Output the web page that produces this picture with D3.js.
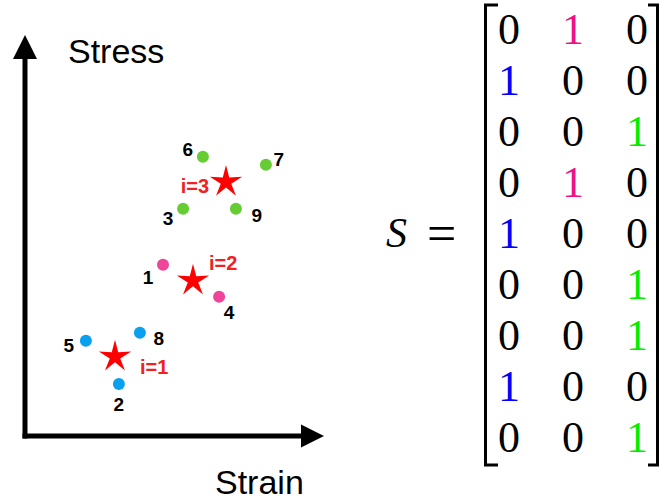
<!DOCTYPE html>
<html>
<head>
<meta charset="utf-8">
<script src="https://cdn.jsdelivr.net/npm/d3@7/dist/d3.min.js"></script>
<style>
  html,body{margin:0;padding:0;background:#fff;}
  svg{display:block;}
</style>
</head>
<body>
<div id="chart"></div>
<script>
// sample points (strain, stress) in axis units, numbered 1..9
const pointIds = [1, 2, 3, 4, 5, 6, 7, 8, 9];
const strain = [4.6, 3.13, 5.27, 6.47, 2.03, 5.93, 8.03, 3.83, 7.03];
const stress = [4.28, 1.3, 5.68, 3.48, 2.38, 6.98, 6.78, 2.58, 5.68];
// cluster each point belongs to
const assignment = [2, 1, 3, 2, 1, 3, 3, 1, 3];

// cluster centres (stars)
const clusterIds = [1, 2, 3];
const centreStrain = [3.0, 5.6, 6.7];
const centreStress = [1.98, 3.88, 6.35];

// label placement, px offsets from the mark (layout only)
const pointLabelOffset = [[-15, 12], [0, 20], [-15, 9], [10, 15], [-17, 4], [-15, -8], [13, -6], [19, 5], [21, 6]];
const centreLabelOffset = [[25, 10, "start"], [16, -18, "start"], [-17, 4, "end"]];

const width = 661, height = 501;

const dotColor = {1: "#0aa0f0", 2: "#ee4499", 3: "#66cc33"};
const matrixColor = {1: "#0000ff", 2: "#ee1188", 3: "#00ee00"};

const svg = d3.select("#chart").append("svg")
  .attr("width", width)
  .attr("height", height);

const x = d3.scaleLinear().domain([0, 10]).range([25, 325]);
const y = d3.scaleLinear().domain([0, 10]).range([436, 36]);

// axes with arrow heads
const x0 = x.range()[0], x1 = x.range()[1];
const y0 = y.range()[0], y1 = y.range()[1];

svg.append("line")
  .attr("x1", x0).attr("x2", x0)
  .attr("y1", y0 + 2.5).attr("y2", y1 + 20)
  .attr("stroke", "#000").attr("stroke-width", 5);

svg.append("line")
  .attr("x1", x0 - 2.5).attr("x2", x1 - 20)
  .attr("y1", y0).attr("y2", y0)
  .attr("stroke", "#000").attr("stroke-width", 5);

svg.append("path")
  .attr("d", `M${x0},${y1 - 1} L${x0 + 12},${y1 + 23} L${x0 - 12},${y1 + 23} Z`)
  .attr("fill", "#000");

svg.append("path")
  .attr("d", `M${x1 - 1},${y0} L${x1 - 24},${y0 - 11.5} L${x1 - 24},${y0 + 11.5} Z`)
  .attr("fill", "#000");

svg.append("text")
  .attr("x", 68).attr("y", 63)
  .attr("font-family", "Liberation Sans, Arial, sans-serif")
  .attr("font-size", 34)
  .text("Stress");

svg.append("text")
  .attr("x", 215).attr("y", 494)
  .attr("font-family", "Liberation Sans, Arial, sans-serif")
  .attr("font-size", 34)
  .text("Strain");

// points
const pts = pointIds.map((id, i) => ({
  id, sx: strain[i], sy: stress[i], c: assignment[i], off: pointLabelOffset[i]
}));

svg.selectAll(".dot").data(pts).enter().append("circle")
  .attr("class", "dot")
  .attr("cx", d => x(d.sx))
  .attr("cy", d => y(d.sy))
  .attr("r", 6)
  .attr("fill", d => dotColor[d.c]);

svg.selectAll(".plabel").data(pts).enter().append("text")
  .attr("class", "plabel")
  .attr("x", d => x(d.sx) + d.off[0])
  .attr("y", d => y(d.sy) + d.off[1])
  .attr("dy", "0.36em")
  .attr("text-anchor", "middle")
  .attr("font-family", "Liberation Sans, Arial, sans-serif")
  .attr("font-weight", "bold")
  .attr("font-size", 19)
  .attr("fill", "#000")
  .text(d => d.id);

// stars
function starPoints(R, r) {
  const out = [];
  for (let k = 0; k < 10; k++) {
    const a = -Math.PI / 2 + k * Math.PI / 5;
    const rad = k % 2 === 0 ? R : r;
    out.push([rad * Math.cos(a), rad * Math.sin(a)]);
  }
  return out;
}
const starLine = d3.line().curve(d3.curveLinearClosed);

const centres = clusterIds.map((id, i) => ({
  id, sx: centreStrain[i], sy: centreStress[i], off: centreLabelOffset[i]
}));

svg.selectAll(".star").data(centres).enter().append("path")
  .attr("class", "star")
  .attr("transform", d => `translate(${x(d.sx)},${y(d.sy)})`)
  .attr("d", starLine(starPoints(17, 5.5)))
  .attr("fill", "#ff0000");

svg.selectAll(".clabel").data(centres).enter().append("text")
  .attr("class", "clabel")
  .attr("x", d => x(d.sx) + d.off[0])
  .attr("y", d => y(d.sy) + d.off[1])
  .attr("dy", "0.36em")
  .attr("text-anchor", d => d.off[2])
  .attr("font-family", "Liberation Sans, Arial, sans-serif")
  .attr("font-weight", "bold")
  .attr("font-size", 20)
  .attr("fill", "#ee2222")
  .text(d => "i=" + d.id);

// assignment matrix S
const rowScale = d3.scalePoint().domain(pointIds).range([29, 437]);
const colScale = d3.scalePoint().domain(clusterIds).range([509, 637]);

const cells = [];
pointIds.forEach((pid, i) => {
  clusterIds.forEach(cid => {
    cells.push({row: pid, col: cid, v: assignment[i] === cid ? 1 : 0});
  });
});

svg.selectAll(".cell").data(cells).enter().append("text")
  .attr("class", "cell")
  .attr("x", d => colScale(d.col))
  .attr("y", d => rowScale(d.row))
  .attr("dy", "0.34em")
  .attr("text-anchor", "middle")
  .attr("font-family", "Liberation Serif, Times New Roman, serif")
  .attr("font-size", 44)
  .attr("fill", d => d.v ? matrixColor[d.col] : "#000")
  .text(d => d.v);

const bTop = 5, bBottom = 465;
svg.append("path")
  .attr("d", `M498,${bTop} H485.5 V${bBottom} H498`)
  .attr("fill", "none").attr("stroke", "#000").attr("stroke-width", 3);
svg.append("path")
  .attr("d", `M648,${bTop} H657.5 V${bBottom} H648`)
  .attr("fill", "none").attr("stroke", "#000").attr("stroke-width", 3);

const midRow = rowScale(5);
svg.append("text")
  .attr("x", 386).attr("y", midRow)
  .attr("dy", "0.34em")
  .attr("font-family", "'Liberation Serif', 'Times New Roman', serif")
  .attr("font-style", "italic")
  .attr("font-size", 42)
  .text("S");
svg.append("text")
  .attr("x", 427).attr("y", midRow)
  .attr("dy", "0.34em")
  .attr("font-family", "'Liberation Serif', 'Times New Roman', serif")
  .attr("font-size", 52)
  .text("=");
</script>
</body>
</html>
